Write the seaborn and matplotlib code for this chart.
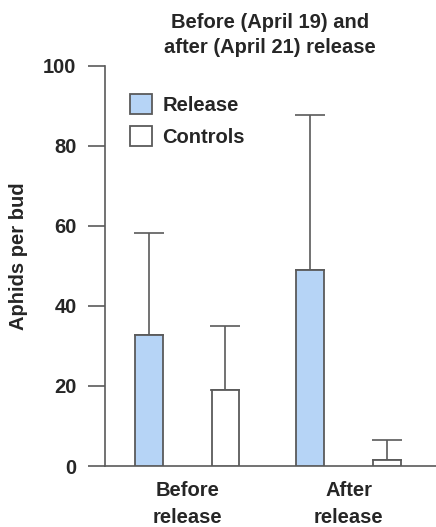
import matplotlib
matplotlib.use("Agg")
import matplotlib.pyplot as plt
import seaborn as sns
import pandas as pd
from matplotlib.patches import Patch

# ---- data ----
categories = ["Before\nrelease", "After\nrelease"]
groups = ["Release", "Controls"]
release_means = [32.6, 49.0]
release_upper = [58.2, 87.6]
controls_means = [19.0, 1.4]
controls_upper = [34.9, 6.6]
title_text = "Before (April 19) and\nafter (April 21) release"
y_label = "Aphids per bud"
y_ticks = [0, 20, 40, 60, 80, 100]

df = pd.DataFrame({
    "period": categories * 2,
    "group": [groups[0]] * 2 + [groups[1]] * 2,
    "value": release_means + controls_means,
})
uppers = {groups[0]: release_upper, groups[1]: controls_upper}

sns.set_style("white")
plt.rcParams["font.family"] = ["Liberation Sans", "DejaVu Sans"]
plt.rcParams["font.weight"] = "bold"

text_color = "#262626"
line_color = "#5a5a5a"
blue = "#b6d4f6"
fs = 14.5

fig = plt.figure(figsize=(4.36, 5.27), dpi=100)
ax = fig.add_axes([105 / 436, 1 - 466 / 527, 1 - 105 / 436, (466 - 65.5) / 527])

palette = {groups[0]: blue, groups[1]: "white"}
sns.barplot(data=df, x="period", y="value", hue="group", order=categories,
            hue_order=groups, palette=palette, saturation=1, width=0.95, gap=0.636,
            edgecolor=line_color, linewidth=1.3, errorbar=None, legend=False,
            ax=ax, zorder=3)

# one-sided (upward) error bars placed on the bars seaborn drew
for container, g in zip(ax.containers, groups):
    for bar, up in zip(container, uppers[g]):
        xc = bar.get_x() + bar.get_width() / 2
        h = bar.get_height()
        ax.errorbar([xc], [h], yerr=[[0], [up - h]], fmt="none",
                    ecolor=line_color, elinewidth=1.2, capsize=10.5,
                    capthick=1.2, zorder=2)

ax.set_xlim(-0.508, 1.54)
ax.set_ylim(0, 100)
ax.set_yticks(y_ticks)
ax.set_xlabel("")
ax.set_ylabel(y_label, fontsize=fs, fontweight="bold", color=text_color)
ax.yaxis.set_label_coords(-0.233, 0.524)

for s in ["top", "right"]:
    ax.spines[s].set_visible(False)
for s in ["left", "bottom"]:
    ax.spines[s].set_color(line_color)
    ax.spines[s].set_linewidth(1.2)

ax.tick_params(axis="y", left=True, direction="out", length=12, width=1.2,
               color=line_color, pad=8.5, labelsize=fs, labelcolor=text_color)
ax.tick_params(axis="x", bottom=False, length=0, pad=11, labelsize=fs,
               labelcolor=text_color)
for lab in ax.get_xticklabels():
    lab.set_linespacing(1.5)
    lab.set_fontweight("bold")
for lab in ax.get_yticklabels():
    lab.set_fontweight("bold")

handles = [Patch(facecolor=blue, edgecolor=line_color, linewidth=1.3, label=groups[0]),
           Patch(facecolor="white", edgecolor=line_color, linewidth=1.3, label=groups[1])]
leg = fig.legend(handles=handles, loc="upper left",
                 bbox_to_anchor=(130 / 436, 1 - 94 / 527), frameon=False,
                 fontsize=fs, handlelength=1.1, handleheight=1.15,
                 handletextpad=0.5, labelspacing=0.55, borderpad=0,
                 borderaxespad=0)
for t in leg.get_texts():
    t.set_color(text_color)
    t.set_fontweight("bold")

fig.text(270 / 436, 1 - 35 / 527, title_text, ha="center", va="center",
         fontsize=fs, fontweight="bold", color=text_color, linespacing=1.45)

fig.savefig("out.png", dpi=100)
